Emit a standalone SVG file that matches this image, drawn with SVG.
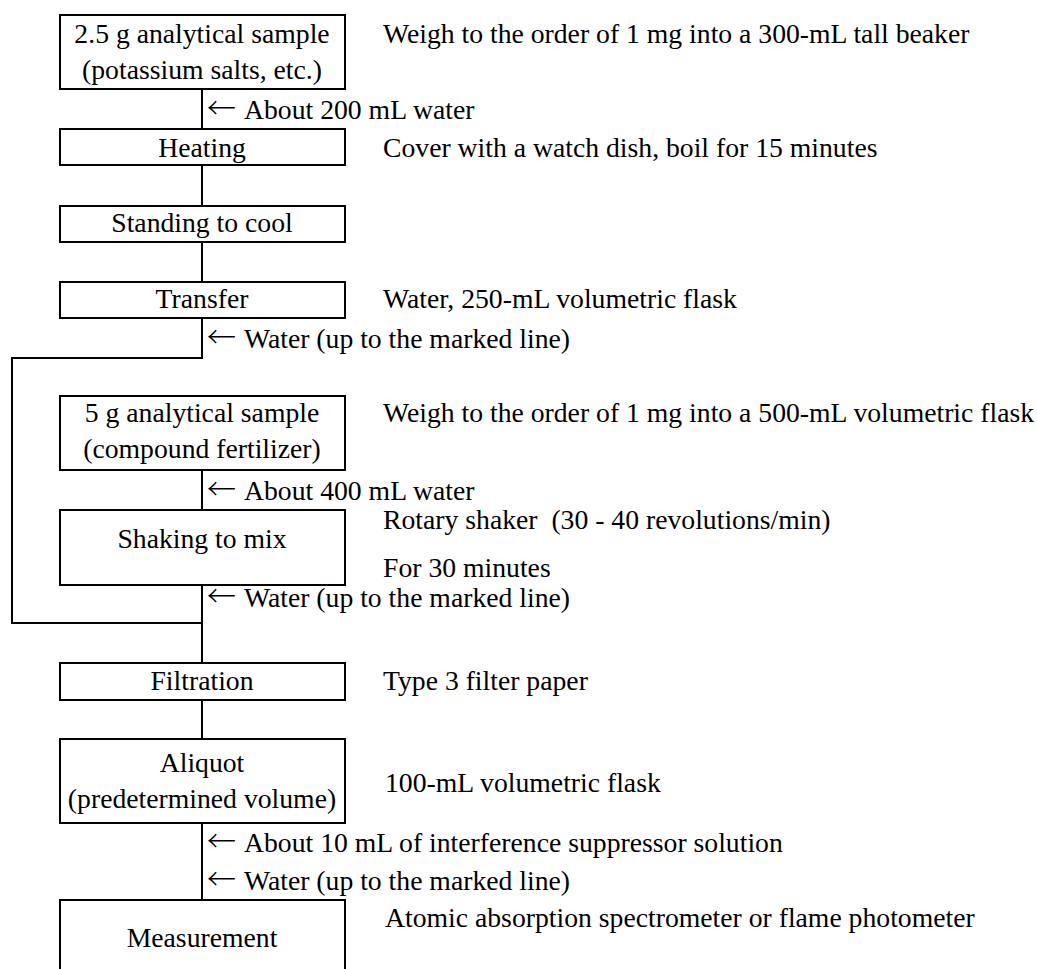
<svg xmlns="http://www.w3.org/2000/svg" width="1037" height="969" viewBox="0 0 1037 969">
<style>
.box{fill:#fff;stroke:#000;stroke-width:2}
.ln{fill:none;stroke:#000;stroke-width:2}
text{font-family:"Liberation Serif","Times New Roman",serif;font-size:27.7px;fill:#000}
.c{text-anchor:middle}
.ar{font-family:"Noto Sans CJK JP","DejaVu Sans",sans-serif;font-size:29px;font-weight:300}
</style>
<rect width="1037" height="969" fill="#fff"/>
<g id="connectors">
<line class="ln" x1="202" y1="89" x2="202" y2="129"/>
<line class="ln" x1="202" y1="165" x2="202" y2="206"/>
<line class="ln" x1="202" y1="242" x2="202" y2="282"/>
<polyline class="ln" points="202,318 202,358 12,358 12,623 202,623"/>
<line class="ln" x1="202" y1="470" x2="202" y2="510"/>
<line class="ln" x1="202" y1="585" x2="202" y2="663"/>
<line class="ln" x1="202" y1="700" x2="202" y2="739"/>
<line class="ln" x1="202" y1="823" x2="202" y2="900"/>
</g>
<g id="n1"><rect class="box" x="60" y="15" width="285" height="74"/>
<text class="c" x="202" y="43">2.5 g analytical sample</text>
<text class="c" x="202" y="79">(potassium salts, etc.)</text></g>
<g id="n2"><rect class="box" x="60" y="129" width="285" height="36"/>
<text class="c" x="202" y="157">Heating</text></g>
<g id="n3"><rect class="box" x="60" y="206" width="285" height="36"/>
<text class="c" x="202" y="232">Standing to cool</text></g>
<g id="n4"><rect class="box" x="60" y="282" width="285" height="36"/>
<text class="c" x="202" y="308">Transfer</text></g>
<g id="n5"><rect class="box" x="60" y="396" width="285" height="74"/>
<text class="c" x="202" y="422">5 g analytical sample</text>
<text class="c" x="202" y="458">(compound fertilizer)</text></g>
<g id="n6"><rect class="box" x="60" y="510" width="285" height="75"/>
<text class="c" x="202" y="548">Shaking to mix</text></g>
<g id="n7"><rect class="box" x="60" y="663" width="285" height="37"/>
<text class="c" x="202" y="690">Filtration</text></g>
<g id="n8"><rect class="box" x="60" y="739" width="285" height="84"/>
<text class="c" x="202" y="772">Aliquot</text>
<text class="c" x="202" y="808">(predetermined volume)</text></g>
<g id="n9"><path class="ln" d="M60,970 V900 H345 V970"/>
<text class="c" x="202" y="947">Measurement</text></g>
<g id="labels">
<text x="383" y="43">Weigh to the order of 1 mg into a 300-mL tall beaker</text>
<text class="ar" x="207" y="119">←</text><text x="244" y="119">About 200 mL water</text>
<text x="383" y="157">Cover with a watch dish, boil for 15 minutes</text>
<text x="383" y="308">Water, 250-mL volumetric flask</text>
<text class="ar" x="207" y="348">←</text><text x="244" y="348">Water (up to the marked line)</text>
<text x="383" y="422">Weigh to the order of 1 mg into a 500-mL volumetric flask</text>
<text class="ar" x="207" y="500">←</text><text x="244" y="500">About 400 mL water</text>
<text x="383" y="529" xml:space="preserve">Rotary shaker  (30 - 40 revolutions/min)</text>
<text x="383" y="577">For 30 minutes</text>
<text class="ar" x="207" y="607">←</text><text x="244" y="607">Water (up to the marked line)</text>
<text x="383" y="690">Type 3 filter paper</text>
<text x="385" y="792">100-mL volumetric flask</text>
<text class="ar" x="207" y="852">←</text><text x="244" y="852">About 10 mL of interference suppressor solution</text>
<text class="ar" x="207" y="890">←</text><text x="244" y="890">Water (up to the marked line)</text>
<text x="385" y="927">Atomic absorption spectrometer or flame photometer</text>
</g>
</svg>
